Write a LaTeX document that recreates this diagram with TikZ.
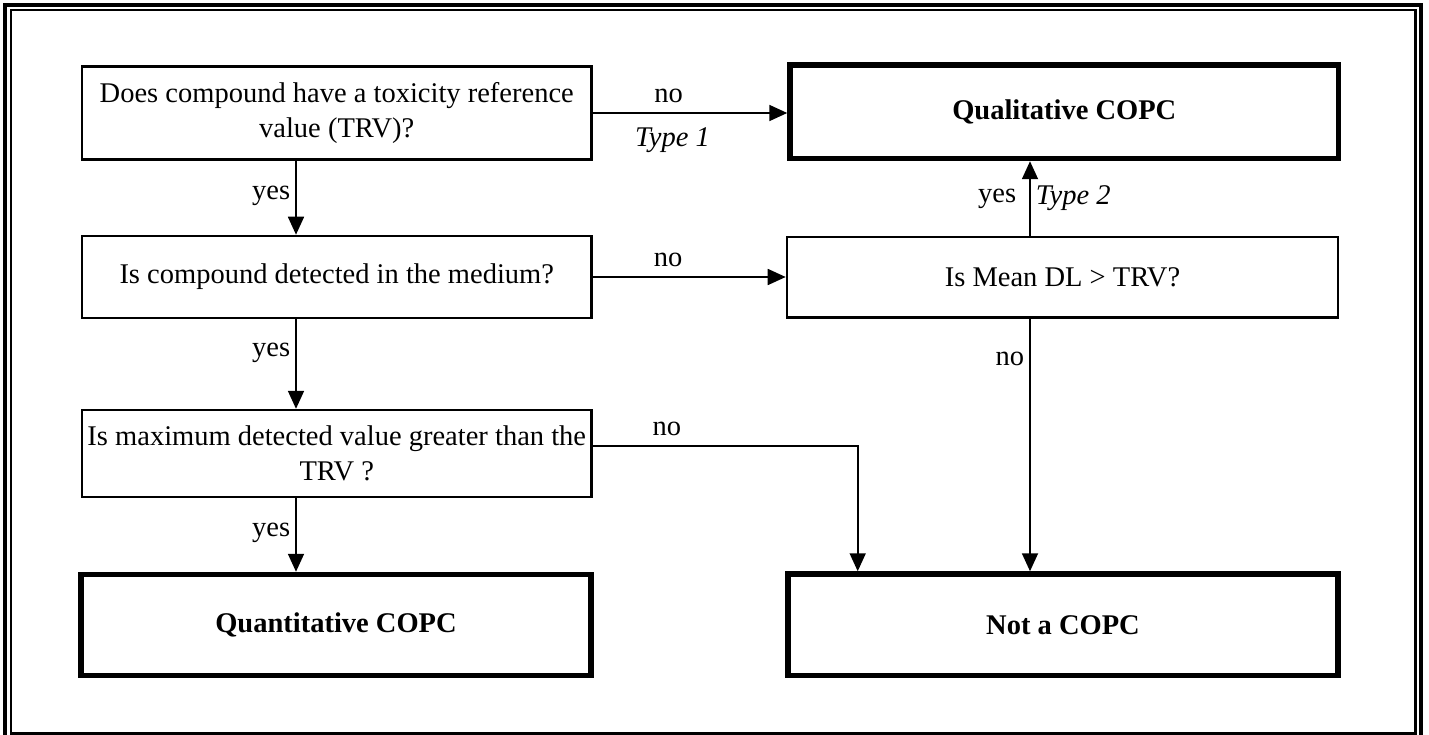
\documentclass[tikz,border=0pt]{standalone}
\usepackage{fontspec}
\setmainfont{Liberation Serif}
\usetikzlibrary{calc,positioning,arrows.meta}

\begin{document}
\begin{tikzpicture}[x=1pt,y=-1pt,
  box/.style={draw, rectangle, line width=2.6pt, align=center, inner sep=0pt, font=\fontsize{28.5}{35}\selectfont},
  endbox/.style={box, line width=5.5pt, font=\fontsize{28.5}{35}\selectfont\bfseries},
  arr/.style={-{Triangle[length=18pt,width=16pt]}, line width=1.8pt},
  lbl/.style={font=\fontsize{28.5}{35}\selectfont, inner sep=5pt}]
\useasboundingbox (0,0) rectangle (1429,735);
\draw [line width=4pt] (5,5) rectangle (1420.5,739.5);
\draw [line width=2.4pt] (11,10.2) rectangle (1415.5,733.5);

\coordinate (lx) at (296,0);
\coordinate (rx) at (1030,0);
\coordinate (mx) at (857.7,0);

\node [box, minimum width=509.5pt, minimum height=93pt] (trv) at (336.75,113) {Does compound have a toxicity reference\\value (TRV)?};
\node [endbox, minimum width=548.5pt, minimum height=93.5pt] (qual) at (1064.25,111.75) {Qualitative COPC};
\node [box, minimum width=509.5pt, minimum height=82pt] (det) at (336.75,277) {Is compound detected in the medium?};
\node [box, minimum width=551pt, minimum height=80.7pt] (mean) at (1062.5,277.3) {Is Mean DL > TRV?};
\node [box, minimum width=509.5pt, minimum height=87pt] (maxv) at (336.75,453.6) {Is maximum detected value greater than the\\TRV ?};
\node [endbox, minimum width=510pt, minimum height=101pt] (quant) at (336,625) {Quantitative COPC};
\node [endbox, minimum width=550pt, minimum height=101.5pt] (notc) at (1063,624.75) {Not a COPC};

\draw [arr] (trv.east) -- (trv.east -| qual.west)
  node [lbl, above, pos=0.39, inner sep=9pt] (lno1) {no}
  node [lbl, below, pos=0.41, inner sep=14pt, font=\fontsize{28.5}{35}\selectfont\itshape] (ltype1) {Type 1};
\draw [arr] (det.east) -- (det.east -| mean.west)
  node [lbl, above, pos=0.39, inner sep=9pt] (lno2) {no};
\draw [arr] (mean.north -| rx) -- (qual.south -| rx)
  node [lbl, left, pos=0.5, xshift=-8pt] (lyes4) {yes}
  node [lbl, right, pos=0.5, font=\fontsize{28.5}{35}\selectfont\itshape] (ltype2) {Type 2};
\draw [arr] (mean.south -| rx) -- (notc.north -| rx)
  node [lbl, left, pos=0.16] (lno3) {no};
\draw [arr] ($(maxv.east)+(0,-8)$) -| (notc.north -| mx)
  node [lbl, above, pos=0.14, inner sep=9pt] (lno4) {no};

\draw [arr] (trv.south -| lx) -- (det.north -| lx) node [lbl, left, pos=0.47] (lyes1) {yes};
\draw [arr] (det.south -| lx) -- (maxv.north -| lx) node [lbl, left, pos=0.37] (lyes2) {yes};
\draw [arr] (maxv.south -| lx) -- (quant.north -| lx) node [lbl, left, pos=0.47] (lyes3) {yes};

\end{tikzpicture}
\end{document}
